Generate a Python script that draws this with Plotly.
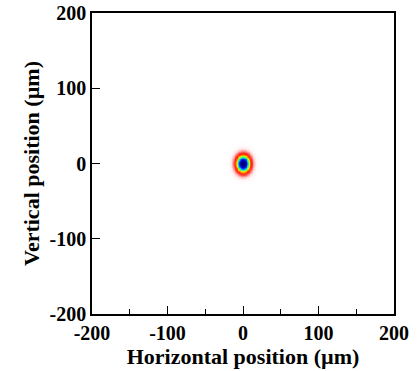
import numpy as np
import plotly.graph_objects as go

# Beam profile samples (relative intensity) read from the spot
x_pos = [-28, -26, -24, -22, -20, -18, -16, -14, -12, -10, -8, -6, -4, -2, 0,
         2, 4, 6, 8, 10, 12, 14, 16, 18, 20, 22, 24, 26, 28]
y_pos = [-28, -26, -24, -22, -20, -18, -16, -14, -12, -10, -8, -6, -4, -2, 0,
         2, 4, 6, 8, 10, 12, 14, 16, 18, 20, 22, 24, 26, 28]
x_profile = [0.0, 0.0, 0.0, 0.001, 0.004, 0.011, 0.029, 0.066, 0.135, 0.249, 0.411, 0.607, 0.801, 0.946, 1.0,
             0.946, 0.801, 0.607, 0.411, 0.249, 0.135, 0.066, 0.029, 0.011, 0.004, 0.001, 0.0, 0.0, 0.0]
y_profile = [0.001, 0.002, 0.006, 0.014, 0.029, 0.056, 0.103, 0.175, 0.278, 0.411, 0.566, 0.726, 0.867, 0.965, 1.0,
             0.965, 0.867, 0.726, 0.566, 0.411, 0.278, 0.175, 0.103, 0.056, 0.029, 0.014, 0.006, 0.002, 0.001]

tick_vals = [-200, -100, 0, 100, 200]
tick_text = ["-200", "-100", "0", "100", "200"]

z = np.outer(np.array(y_profile), np.array(x_profile))

colorscale = [
    [0.0, "#ffffff"],
    [0.02, "#fff0f0"],
    [0.06, "#ffb0b0"],
    [0.12, "#ff4848"],
    [0.2, "#ff1800"],
    [0.3, "#ff9000"],
    [0.38, "#ffff00"],
    [0.46, "#40ff40"],
    [0.54, "#00ffff"],
    [0.64, "#0050ff"],
    [0.78, "#0000d0"],
    [0.9, "#000090"],
    [1.0, "#000050"],
]

fig = go.Figure(go.Heatmap(x=x_pos, y=y_pos, z=z, colorscale=colorscale,
                           zmin=0, zmax=1, zsmooth="best", showscale=False))

tfont = dict(family="Liberation Serif", size=20, color="black", weight="bold")
title_font = dict(family="Liberation Serif", size=22, color="black", weight="bold")
axis_common = dict(range=[-200, 200], showgrid=False, zeroline=False, automargin=False,
                   showline=True, linecolor="black", linewidth=1.5, mirror=True,
                   ticks="inside", ticklen=8, tickwidth=1.2, tickcolor="black",
                   tickvals=tick_vals, ticktext=tick_text, tickfont=tfont)

fig.update_layout(
    width=420, height=371,
    margin=dict(l=92, r=26, t=13, b=57),
    paper_bgcolor="white", plot_bgcolor="white",
    font=dict(family="Liberation Serif", size=20, color="black"),
)
fig.update_xaxes(**axis_common,
                 minor=dict(ticks="inside", ticklen=5, tickwidth=1.2, tickcolor="black", dtick=50, tick0=-200),
                 title=dict(text="Horizontal position (µm)", standoff=0, font=title_font))
fig.update_yaxes(**axis_common,
                 title=dict(text="Vertical position (µm)", standoff=4, font=title_font))

fig.write_html("out.html")
